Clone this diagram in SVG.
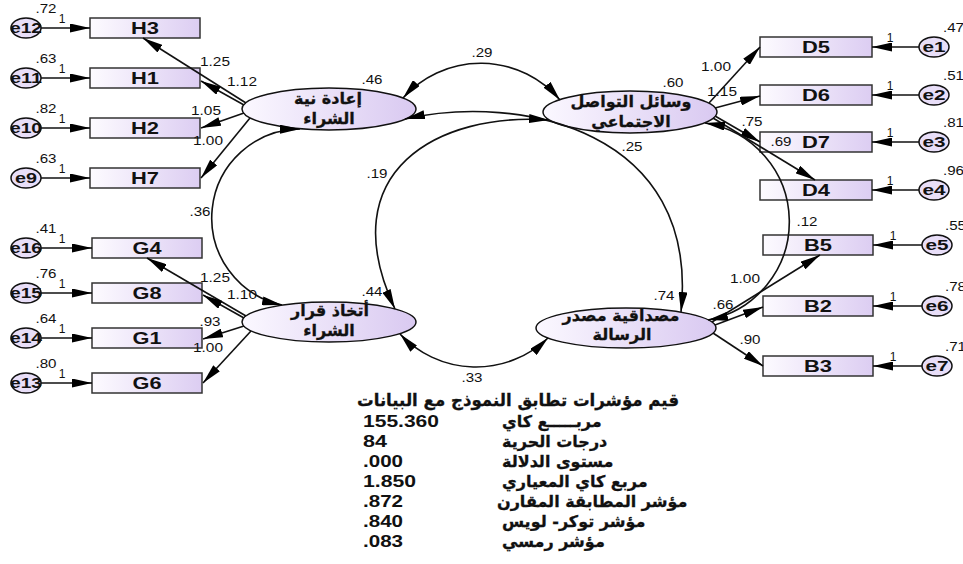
<svg xmlns="http://www.w3.org/2000/svg" width="963" height="564" viewBox="0 0 963 564">
<defs>
<linearGradient id="gb" x1="0" y1="0" x2="1" y2="0"><stop offset="0" stop-color="#fdfbff"/><stop offset="1" stop-color="#dccdf2"/></linearGradient>
<linearGradient id="ge" x1="0" y1="0" x2="1" y2="0"><stop offset="0" stop-color="#fbf8ff"/><stop offset="1" stop-color="#d9c9f1"/></linearGradient>
<marker id="ah" viewBox="0 0 20 9" markerWidth="20" markerHeight="9" refX="20" refY="4.5" orient="auto-start-reverse" markerUnits="userSpaceOnUse"><path d="M0,0 L20,4.5 L0,9 z" fill="#000"/></marker>
</defs>
<style>
.box{fill:url(#gb);stroke:#333;stroke-width:1.5}
.lat{fill:url(#ge);stroke:#111;stroke-width:1.5}
.err{fill:#e8def8;stroke:#111;stroke-width:1.5}
.c{fill:none;stroke:#111;stroke-width:1.6}
.a{marker-end:url(#ah)}
.b{marker-start:url(#ah);marker-end:url(#ah)}
text{font-family:"Liberation Sans",Arial,sans-serif;fill:#111}
.bl{font-size:17px;font-weight:bold;text-anchor:middle}
.el{font-size:15px;font-weight:bold;text-anchor:middle}
.n{font-size:12px;text-anchor:middle}
.ns{font-size:12px}
.ar{font-family:"DejaVu Sans","Noto Sans",sans-serif;font-weight:bold;font-size:16px;text-anchor:middle;stroke:#111;stroke-width:0.3}
.fv{font-size:17px;font-weight:bold}
.fa{font-family:"DejaVu Sans","Noto Sans",sans-serif;font-weight:bold;font-size:16px;stroke:#111;stroke-width:0.3}
.ft{font-family:"DejaVu Sans","Noto Sans",sans-serif;font-weight:bold;font-size:17px;stroke:#111;stroke-width:0.3}
</style>
<rect width="963" height="564" fill="#fff"/>

<!-- nodes -->
<g id="e12"><ellipse class="err" cx="26" cy="28" rx="15" ry="10"/><text class="el" x="26" y="33" textLength="32" lengthAdjust="spacingAndGlyphs">e12</text></g>
<g id="e11"><ellipse class="err" cx="26" cy="78" rx="15" ry="10"/><text class="el" x="26" y="83" textLength="32" lengthAdjust="spacingAndGlyphs">e11</text></g>
<g id="e10"><ellipse class="err" cx="26" cy="128" rx="15" ry="10"/><text class="el" x="26" y="133" textLength="32" lengthAdjust="spacingAndGlyphs">e10</text></g>
<g id="e9"><ellipse class="err" cx="26" cy="178" rx="15" ry="10"/><text class="el" x="26" y="183" textLength="22" lengthAdjust="spacingAndGlyphs">e9</text></g>
<g id="e16"><ellipse class="err" cx="26" cy="248" rx="15" ry="10"/><text class="el" x="26" y="253" textLength="32" lengthAdjust="spacingAndGlyphs">e16</text></g>
<g id="e15"><ellipse class="err" cx="26" cy="293" rx="15" ry="10"/><text class="el" x="26" y="298" textLength="32" lengthAdjust="spacingAndGlyphs">e15</text></g>
<g id="e14"><ellipse class="err" cx="26" cy="338" rx="15" ry="10"/><text class="el" x="26" y="343" textLength="32" lengthAdjust="spacingAndGlyphs">e14</text></g>
<g id="e13"><ellipse class="err" cx="26" cy="383" rx="15" ry="10"/><text class="el" x="26" y="388" textLength="32" lengthAdjust="spacingAndGlyphs">e13</text></g>

<g id="e1"><ellipse class="err" cx="934" cy="47" rx="15" ry="10"/><text class="el" x="934" y="52" textLength="23" lengthAdjust="spacingAndGlyphs">e1</text></g>
<g id="e2"><ellipse class="err" cx="934" cy="95" rx="15" ry="10"/><text class="el" x="934" y="100" textLength="23" lengthAdjust="spacingAndGlyphs">e2</text></g>
<g id="e3"><ellipse class="err" cx="934" cy="142" rx="15" ry="10"/><text class="el" x="934" y="147" textLength="23" lengthAdjust="spacingAndGlyphs">e3</text></g>
<g id="e4"><ellipse class="err" cx="934" cy="190" rx="15" ry="10"/><text class="el" x="934" y="195" textLength="23" lengthAdjust="spacingAndGlyphs">e4</text></g>
<g id="e5"><ellipse class="err" cx="937" cy="245" rx="15" ry="10"/><text class="el" x="937" y="250" textLength="23" lengthAdjust="spacingAndGlyphs">e5</text></g>
<g id="e6"><ellipse class="err" cx="937" cy="306" rx="15" ry="10"/><text class="el" x="937" y="311" textLength="23" lengthAdjust="spacingAndGlyphs">e6</text></g>
<g id="e7"><ellipse class="err" cx="937" cy="366" rx="15" ry="10"/><text class="el" x="937" y="371" textLength="23" lengthAdjust="spacingAndGlyphs">e7</text></g>

<g id="H3"><rect class="box" x="90" y="18" width="110" height="20"/><text class="bl" x="145" y="34" textLength="28" lengthAdjust="spacingAndGlyphs">H3</text></g>
<g id="H1"><rect class="box" x="90" y="68" width="110" height="20"/><text class="bl" x="145" y="84" textLength="28" lengthAdjust="spacingAndGlyphs">H1</text></g>
<g id="H2"><rect class="box" x="90" y="118" width="110" height="20"/><text class="bl" x="145" y="134" textLength="28" lengthAdjust="spacingAndGlyphs">H2</text></g>
<g id="H7"><rect class="box" x="90" y="168" width="110" height="20"/><text class="bl" x="145" y="184" textLength="28" lengthAdjust="spacingAndGlyphs">H7</text></g>
<g id="G4"><rect class="box" x="92" y="238" width="110" height="20"/><text class="bl" x="147" y="254" textLength="29" lengthAdjust="spacingAndGlyphs">G4</text></g>
<g id="G8"><rect class="box" x="92" y="283" width="110" height="20"/><text class="bl" x="147" y="299" textLength="29" lengthAdjust="spacingAndGlyphs">G8</text></g>
<g id="G1"><rect class="box" x="92" y="328" width="110" height="20"/><text class="bl" x="147" y="344" textLength="29" lengthAdjust="spacingAndGlyphs">G1</text></g>
<g id="G6"><rect class="box" x="92" y="373" width="110" height="20"/><text class="bl" x="147" y="389" textLength="29" lengthAdjust="spacingAndGlyphs">G6</text></g>

<g id="D5"><rect class="box" x="760" y="37" width="112" height="20"/><text class="bl" x="816" y="53" textLength="28" lengthAdjust="spacingAndGlyphs">D5</text></g>
<g id="D6"><rect class="box" x="760" y="85" width="112" height="20"/><text class="bl" x="816" y="101" textLength="28" lengthAdjust="spacingAndGlyphs">D6</text></g>
<g id="D7"><rect class="box" x="760" y="132" width="112" height="20"/><text class="bl" x="816" y="148" textLength="28" lengthAdjust="spacingAndGlyphs">D7</text></g>
<g id="D4"><rect class="box" x="760" y="180" width="112" height="20"/><text class="bl" x="816" y="196" textLength="28" lengthAdjust="spacingAndGlyphs">D4</text></g>
<g id="B5"><rect class="box" x="763" y="235" width="110" height="20"/><text class="bl" x="818" y="251" textLength="28" lengthAdjust="spacingAndGlyphs">B5</text></g>
<g id="B2"><rect class="box" x="763" y="296" width="110" height="20"/><text class="bl" x="818" y="312" textLength="28" lengthAdjust="spacingAndGlyphs">B2</text></g>
<g id="B3"><rect class="box" x="763" y="356" width="110" height="20"/><text class="bl" x="818" y="372" textLength="28" lengthAdjust="spacingAndGlyphs">B3</text></g>

<g id="intent"><ellipse class="lat" cx="329" cy="109" rx="87" ry="21"/><text class="ar" x="328" y="104">إعادة نية</text><text class="ar" x="329" y="124">الشراء</text></g>
<g id="social"><ellipse class="lat" cx="630" cy="112" rx="87" ry="21"/><text class="ar" x="631" y="107">وسائل التواصل</text><text class="ar" x="631" y="127">الاجتماعي</text></g>
<g id="decision"><ellipse class="lat" cx="329" cy="322" rx="87" ry="20"/><text class="ar" x="330" y="316">أتخاذ قرار</text><text class="ar" x="329" y="336">الشراء</text></g>
<g id="credibility"><ellipse class="lat" cx="626" cy="328" rx="90" ry="20"/><text class="ar" x="621" y="321">مصداقية مصدر</text><text class="ar" x="622" y="340">الرسالة</text></g>

<!-- connectors -->
<g id="connectors">
<path class="c a" d="M41,28 H90"/>
<path class="c a" d="M41,78 H90"/>
<path class="c a" d="M41,128 H90"/>
<path class="c a" d="M41,178 H90"/>
<path class="c a" d="M41,248 H92"/>
<path class="c a" d="M41,293 H92"/>
<path class="c a" d="M41,338 H92"/>
<path class="c a" d="M41,383 H92"/>
<path class="c a" d="M919,47 H872"/>
<path class="c a" d="M919,95 H872"/>
<path class="c a" d="M919,142 H872"/>
<path class="c a" d="M919,190 H872"/>
<path class="c a" d="M922,245 H873"/>
<path class="c a" d="M922,306 H873"/>
<path class="c a" d="M922,366 H873"/>

<path class="c a" d="M246,103 L143,38"/>
<path class="c a" d="M244,105 L201,81"/>
<path class="c a" d="M244,113 L201,128"/>
<path class="c a" d="M250,118 L201,178"/>
<path class="c a" d="M246,316 L147,258"/>
<path class="c a" d="M244,318 L203,295"/>
<path class="c a" d="M244,326 L203,339"/>
<path class="c a" d="M251,331 L203,383"/>
<path class="c a" d="M709,103 L760,47"/>
<path class="c a" d="M715,108 L760,96"/>
<path class="c a" d="M715,116 L760,142"/>
<path class="c a" d="M713,118 L815,180"/>
<path class="c a" d="M712,322 L820,255"/>
<path class="c a" d="M715,325 L763,307"/>
<path class="c a" d="M713,333 L763,366"/>

<path class="c b" d="M403,98 A104,104 0 0 1 560,100"/>
<path class="c b" d="M400,334 A104,104 0 0 0 548,338"/>
<path class="c b" d="M300,129 A89,89 0 0 0 282,305"/>
<path class="c b" d="M705,123 A100,100 0 0 1 708,320"/>
<path class="c b" d="M405,119 C520,93 700,130 681,312"/>
<path class="c b" d="M549,120 C440,112 330,170 395,309"/>
</g>

<!-- labels -->
<g id="labels">
<text class="n" x="46" y="13" textLength="21" lengthAdjust="spacingAndGlyphs">.72</text>
<text class="n" x="46" y="63" textLength="21" lengthAdjust="spacingAndGlyphs">.63</text>
<text class="n" x="46" y="113" textLength="21" lengthAdjust="spacingAndGlyphs">.82</text>
<text class="n" x="46" y="163" textLength="21" lengthAdjust="spacingAndGlyphs">.63</text>
<text class="n" x="46" y="233" textLength="21" lengthAdjust="spacingAndGlyphs">.41</text>
<text class="n" x="46" y="278" textLength="21" lengthAdjust="spacingAndGlyphs">.76</text>
<text class="n" x="46" y="323" textLength="21" lengthAdjust="spacingAndGlyphs">.64</text>
<text class="n" x="46" y="368" textLength="21" lengthAdjust="spacingAndGlyphs">.80</text>
<text class="n" x="62" y="23">1</text>
<text class="n" x="62" y="73">1</text>
<text class="n" x="62" y="123">1</text>
<text class="n" x="62" y="173">1</text>
<text class="n" x="62" y="243">1</text>
<text class="n" x="62" y="288">1</text>
<text class="n" x="62" y="333">1</text>
<text class="n" x="62" y="378">1</text>

<text class="ns" x="943" y="32" textLength="21" lengthAdjust="spacingAndGlyphs">.47</text>
<text class="ns" x="943" y="80" textLength="21" lengthAdjust="spacingAndGlyphs">.51</text>
<text class="ns" x="943" y="127" textLength="21" lengthAdjust="spacingAndGlyphs">.81</text>
<text class="ns" x="943" y="175" textLength="21" lengthAdjust="spacingAndGlyphs">.96</text>
<text class="ns" x="945" y="230" textLength="21" lengthAdjust="spacingAndGlyphs">.55</text>
<text class="ns" x="945" y="291" textLength="21" lengthAdjust="spacingAndGlyphs">.78</text>
<text class="ns" x="945" y="351" textLength="21" lengthAdjust="spacingAndGlyphs">.71</text>
<text class="n" x="890" y="42">1</text>
<text class="n" x="890" y="90">1</text>
<text class="n" x="890" y="137">1</text>
<text class="n" x="890" y="185">1</text>
<text class="n" x="893" y="240">1</text>
<text class="n" x="893" y="301">1</text>
<text class="n" x="893" y="361">1</text>

<text class="n" x="215" y="66" textLength="30" lengthAdjust="spacingAndGlyphs">1.25</text>
<text class="n" x="242" y="86" textLength="30" lengthAdjust="spacingAndGlyphs">1.12</text>
<text class="n" x="206" y="115" textLength="30" lengthAdjust="spacingAndGlyphs">1.05</text>
<text class="n" x="208" y="145" textLength="30" lengthAdjust="spacingAndGlyphs">1.00</text>
<text class="n" x="215" y="282" textLength="30" lengthAdjust="spacingAndGlyphs">1.25</text>
<text class="n" x="242" y="299" textLength="30" lengthAdjust="spacingAndGlyphs">1.10</text>
<text class="n" x="210" y="326" textLength="21" lengthAdjust="spacingAndGlyphs">.93</text>
<text class="n" x="208" y="352" textLength="30" lengthAdjust="spacingAndGlyphs">1.00</text>

<text class="n" x="716" y="71" textLength="30" lengthAdjust="spacingAndGlyphs">1.00</text>
<text class="n" x="722" y="96" textLength="30" lengthAdjust="spacingAndGlyphs">1.15</text>
<text class="n" x="752" y="126" textLength="21" lengthAdjust="spacingAndGlyphs">.75</text>
<text class="n" x="781" y="146" textLength="21" lengthAdjust="spacingAndGlyphs">.69</text>
<text class="n" x="745" y="283" textLength="30" lengthAdjust="spacingAndGlyphs">1.00</text>
<text class="n" x="723" y="309" textLength="21" lengthAdjust="spacingAndGlyphs">.66</text>
<text class="n" x="750" y="344" textLength="21" lengthAdjust="spacingAndGlyphs">.90</text>
<text class="n" x="807" y="226" textLength="21" lengthAdjust="spacingAndGlyphs">.12</text>

<text class="n" x="372" y="84" textLength="21" lengthAdjust="spacingAndGlyphs">.46</text>
<text class="n" x="673" y="87" textLength="21" lengthAdjust="spacingAndGlyphs">.60</text>
<text class="n" x="372" y="296" textLength="21" lengthAdjust="spacingAndGlyphs">.44</text>
<text class="n" x="664" y="300" textLength="21" lengthAdjust="spacingAndGlyphs">.74</text>

<text class="n" x="482" y="57" textLength="21" lengthAdjust="spacingAndGlyphs">.29</text>
<text class="n" x="632" y="151" textLength="21" lengthAdjust="spacingAndGlyphs">.25</text>
<text class="n" x="377" y="178" textLength="21" lengthAdjust="spacingAndGlyphs">.19</text>
<text class="n" x="200" y="216" textLength="21" lengthAdjust="spacingAndGlyphs">.36</text>
<text class="n" x="472" y="382" textLength="21" lengthAdjust="spacingAndGlyphs">.33</text>
</g>

<!-- fit indices -->
<g id="fit">
<text class="ft" x="357" y="406" textLength="322" lengthAdjust="spacingAndGlyphs">قيم مؤشرات تطابق النموذج مع البيانات</text>
<text class="fv" x="363" y="427" textLength="76" lengthAdjust="spacingAndGlyphs">155.360</text>
<text class="fa" x="502" y="427">مربـــــع كاي</text>
<text class="fv" x="363" y="447" textLength="24" lengthAdjust="spacingAndGlyphs">84</text>
<text class="fa" x="502" y="447">درجات الحرية</text>
<text class="fv" x="363" y="467" textLength="40" lengthAdjust="spacingAndGlyphs">.000</text>
<text class="fa" x="502" y="467">مستوى الدلالة</text>
<text class="fv" x="363" y="487" textLength="53" lengthAdjust="spacingAndGlyphs">1.850</text>
<text class="fa" x="502" y="487">مربع كاي المعياري</text>
<text class="fv" x="363" y="507" textLength="40" lengthAdjust="spacingAndGlyphs">.872</text>
<text class="fa" x="497" y="507">مؤشر المطابقة المقارن</text>
<text class="fv" x="363" y="527" textLength="40" lengthAdjust="spacingAndGlyphs">.840</text>
<text class="fa" x="502" y="527">مؤشر توكر- لويس</text>
<text class="fv" x="363" y="547" textLength="40" lengthAdjust="spacingAndGlyphs">.083</text>
<text class="fa" x="502" y="547">مؤشر رمسي</text>
</g>
</svg>
